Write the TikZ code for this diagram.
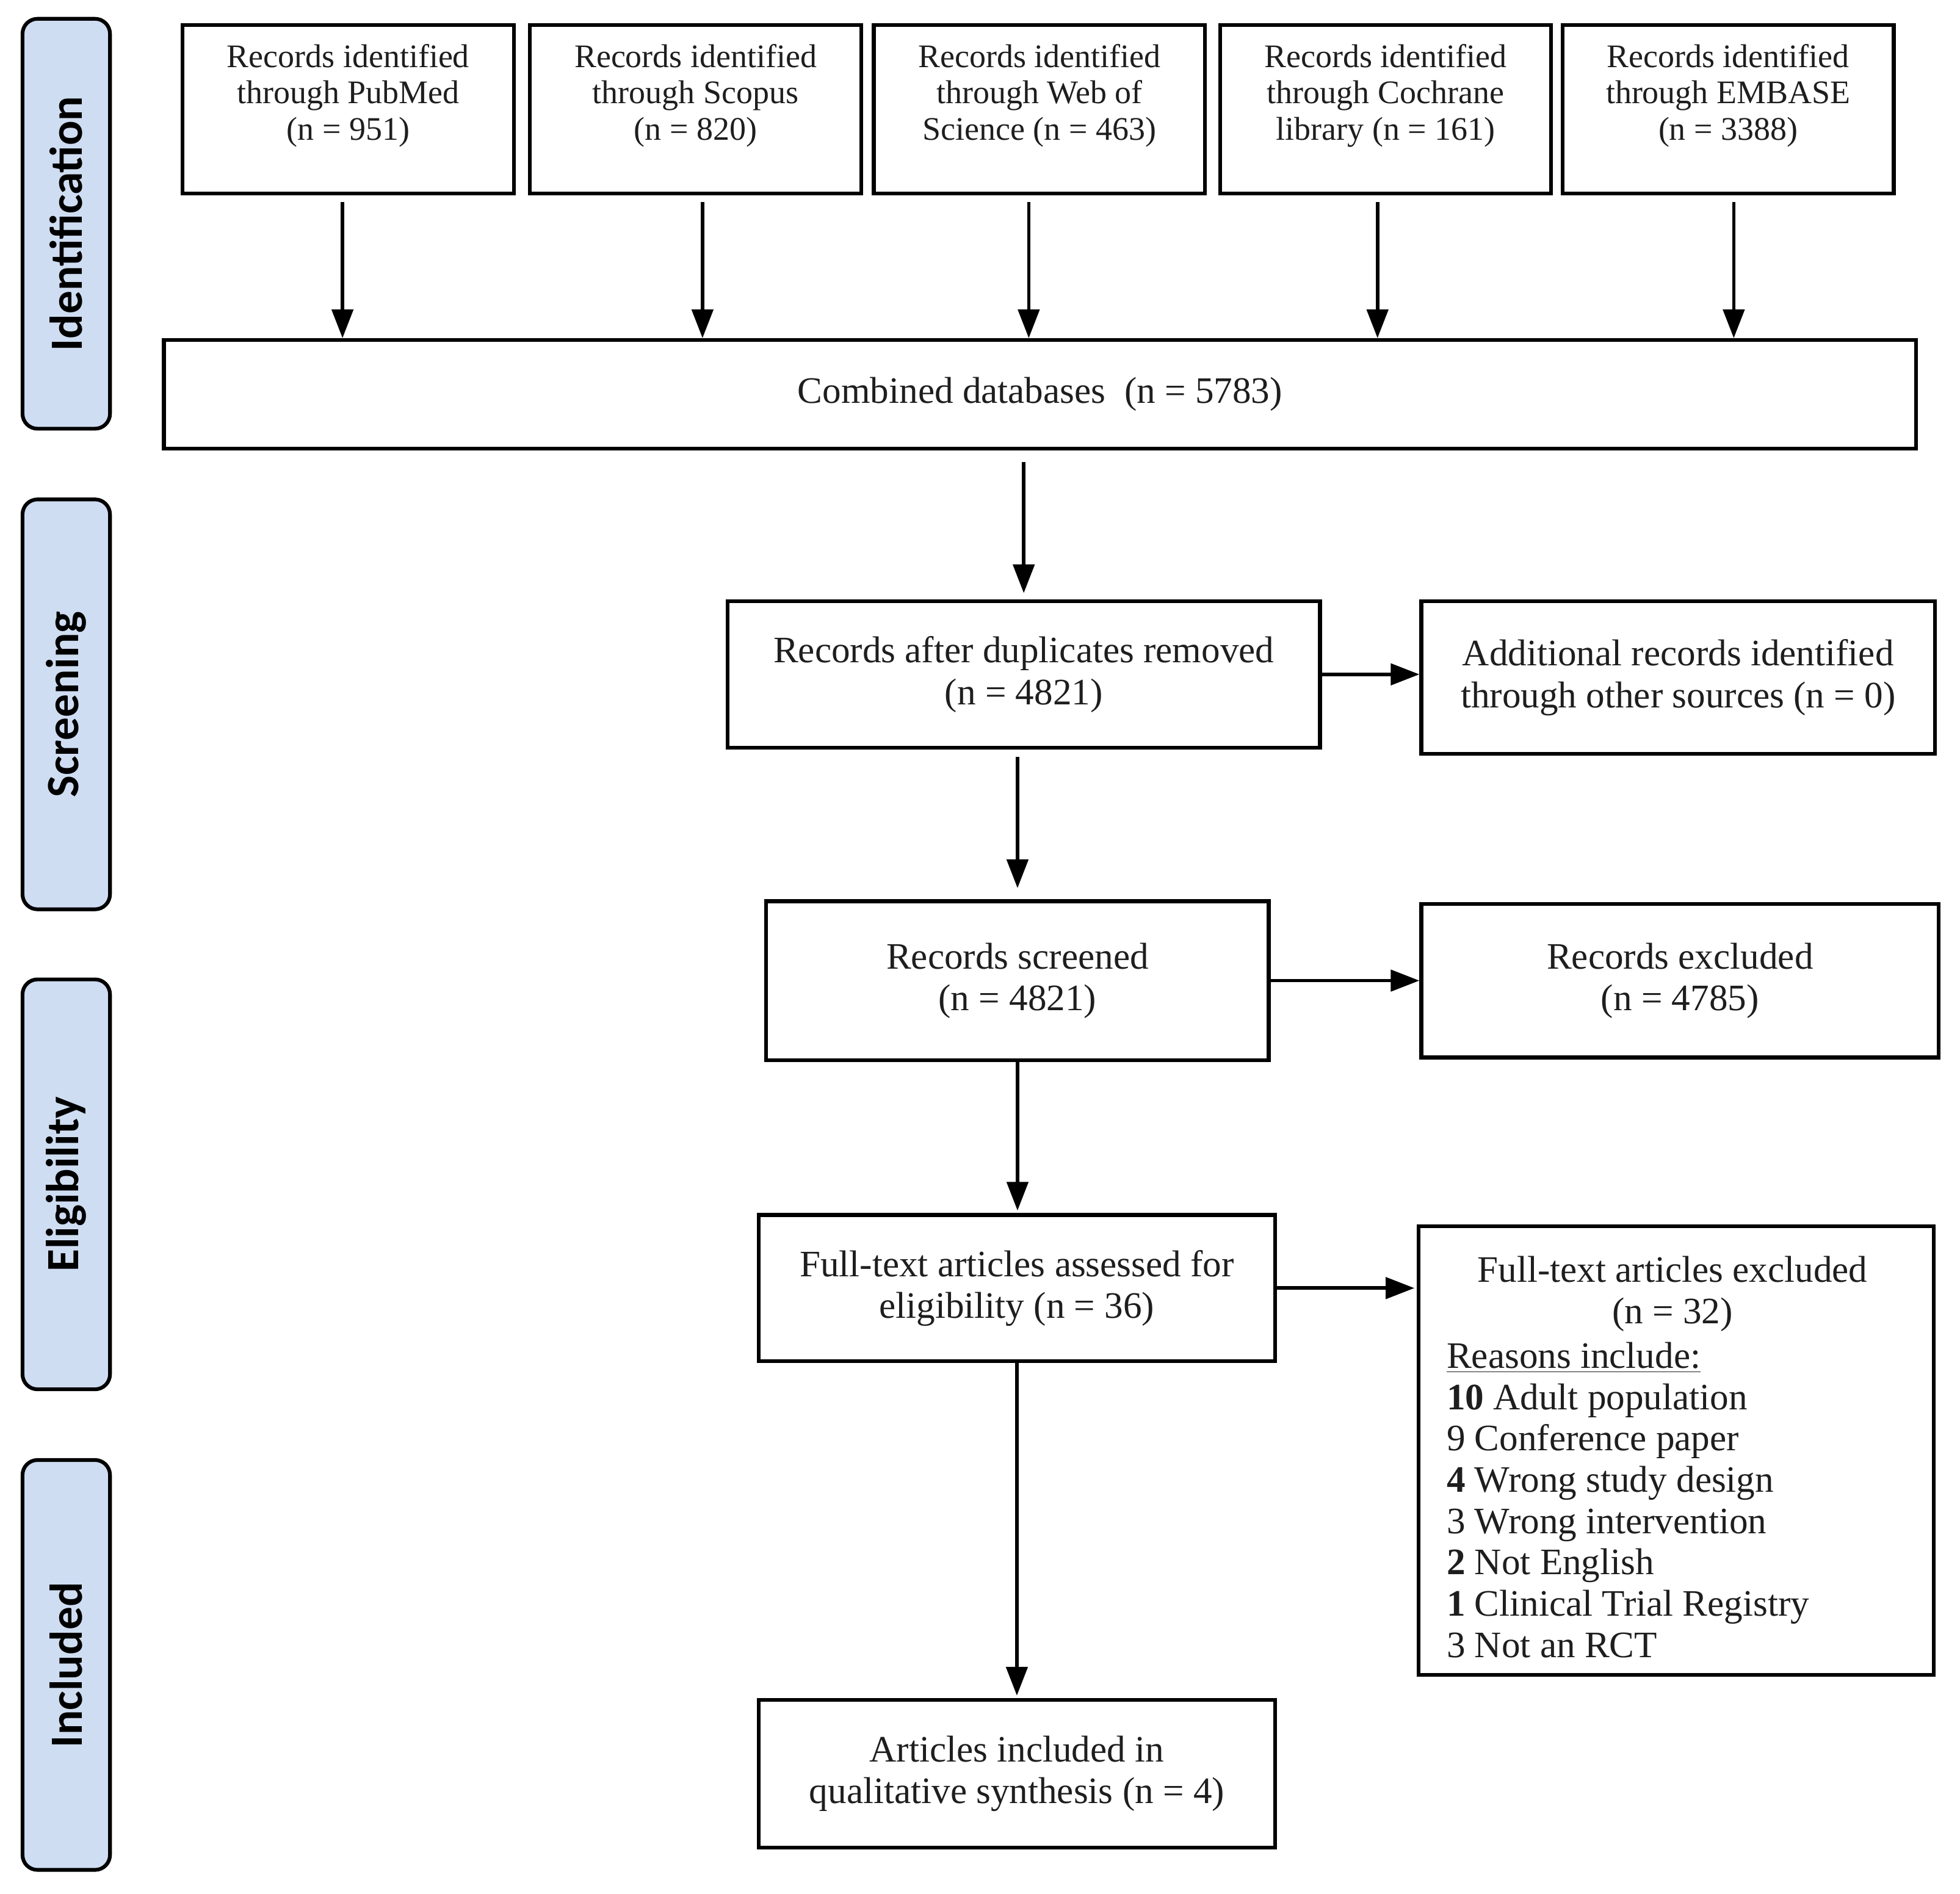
\documentclass[tikz,border=0pt]{standalone}
\usepackage{fontspec}
\setmainfont{Liberation Serif}
\newfontfamily\labfont{Carlito}
\usetikzlibrary{arrows.meta,calc}
\definecolor{labblue}{RGB}{207,221,242}
\definecolor{txt}{RGB}{30,30,30}
\begin{document}
\begin{tikzpicture}[x=0.02cm,y=-0.02cm,
  box/.style={draw=black, line width=1.7pt, fill=white, inner sep=0pt, align=center, text=txt, font=\fontsize{17}{19}\selectfont},
  topbox/.style={draw=black, line width=1.7pt, minimum width=5.3cm, minimum height=2.7cm, inner sep=0pt},
  toptext/.style={align=center, text=txt, font=\fontsize{15}{16.5}\selectfont, inner sep=0pt},
  stage/.style={draw=black, line width=1.7pt, fill=labblue, rounded corners=0.24cm, rotate=90, minimum width=6.56cm, minimum height=1.4cm, inner sep=0pt, font=\labfont\bfseries\fontsize{21}{24}\selectfont},
  arr/.style={-{Triangle[length=0.46cm,width=0.34cm]}, line width=1.6pt},
  plain/.style={inner sep=0pt, text=txt, font=\fontsize{17}{19}\selectfont},
]
\useasboundingbox (0,0) rectangle (1568,1515);

% stage labels
\node[stage] (sid) at (53,179) {Identification};
\node[stage] (ssc) at (53,563.5) {Screening};
\node[stage] (sel) at (53,947.5) {Eligibility};
\node[stage] (sin) at (53,1332) {Included};

% top boxes
\node[topbox] (pub) at (278.5,87.5) {};
\node[topbox] (sco) at (556.5,87.5) {};
\node[topbox] (wos) at (831.5,87.5) {};
\node[topbox] (coc) at (1108.5,87.5) {};
\node[topbox] (emb) at (1382.5,87.5) {};
\node[toptext] (tpub) at ($(pub.center)+(0,-11)$) {Records identified\\through PubMed\\(n = 951)};
\node[toptext] (tsco) at ($(sco.center)+(0,-11)$) {Records identified\\through Scopus\\(n = 820)};
\node[toptext] (twos) at ($(wos.center)+(0,-11)$) {Records identified\\through Web of\\Science (n = 463)};
\node[toptext] (tcoc) at ($(coc.center)+(0,-11)$) {Records identified\\through Cochrane\\library (n = 161)};
\node[toptext] (temb) at ($(emb.center)+(0,-11)$) {Records identified\\through EMBASE\\(n = 3388)};

% main flow
\node[box, minimum width=28.04cm, minimum height=1.74cm] (comb) at (832,315.5) {Combined databases\ \ (n = 5783)};
\node[box, minimum width=9.48cm, minimum height=2.34cm] (dup) at (819,539.5) {Records after duplicates removed\\(n = 4821)};
\node[box, minimum width=8.22cm, minimum height=2.44cm] (add) at (1342.5,542) {Additional records identified\\through other sources (n = 0)};
\node[box, minimum width=8.04cm, minimum height=2.54cm] (scr) at (814,784.5) {Records screened\\(n = 4821)};
\node[box, minimum width=8.28cm, minimum height=2.46cm] (exc) at (1344,784.5) {Records excluded\\(n = 4785)};
\node[box, minimum width=8.26cm, minimum height=2.34cm] (full) at (813.5,1030.5) {Full-text articles assessed for\\eligibility (n = 36)};
\node[box, minimum width=8.24cm, minimum height=7.18cm] (fexc) at (1341,1160.5) {};
\node[box, minimum width=8.26cm, minimum height=2.36cm] (incl) at (813.5,1419) {Articles included in\\qualitative synthesis (n = 4)};

\node[plain, align=center] (fexch) at (1338,1035) {Full-text articles excluded\\(n = 32)};
\node[plain, align=left, anchor=west, font=\fontsize{17}{18.8}\selectfont] (fexcl) at (1157,1200) {\underline{Reasons include:}\\
\textbf{10} Adult population\\
9 Conference paper\\
\textbf{4} Wrong study design\\
3 Wrong intervention\\
\textbf{2} Not English\\
\textbf{1} Clinical Trial Registry\\
3 Not an RCT};

% arrows
\foreach \s/\dx in {pub/-4.5,sco/5.5,wos/-8.5,coc/-6.5,emb/4.5}
  \draw[arr, shorten <=0.1cm] ($(\s.south)+(\dx,0)$) -- ($(\s.south |- comb.north)+(\dx,0)$);
\draw[arr, shorten <=0.18cm, shorten >=0.1cm] (comb.south -| dup.north) -- (dup.north);
\draw[arr, shorten <=0.12cm, shorten >=0.18cm] (dup.south -| scr.north) -- (scr.north);
\draw[arr, shorten >=0.04cm] (scr.south) -- (scr.south |- full.north);
\draw[arr, shorten >=0.04cm] (full.south) -- (full.south |- incl.north);
\draw[arr] (dup.east) -- (dup.east -| add.west);
\draw[arr] (scr.east) -- (scr.east -| exc.west);
\draw[arr, shorten >=0.04cm] (full.east) -- (full.east -| fexc.west);
\end{tikzpicture}
\end{document}
